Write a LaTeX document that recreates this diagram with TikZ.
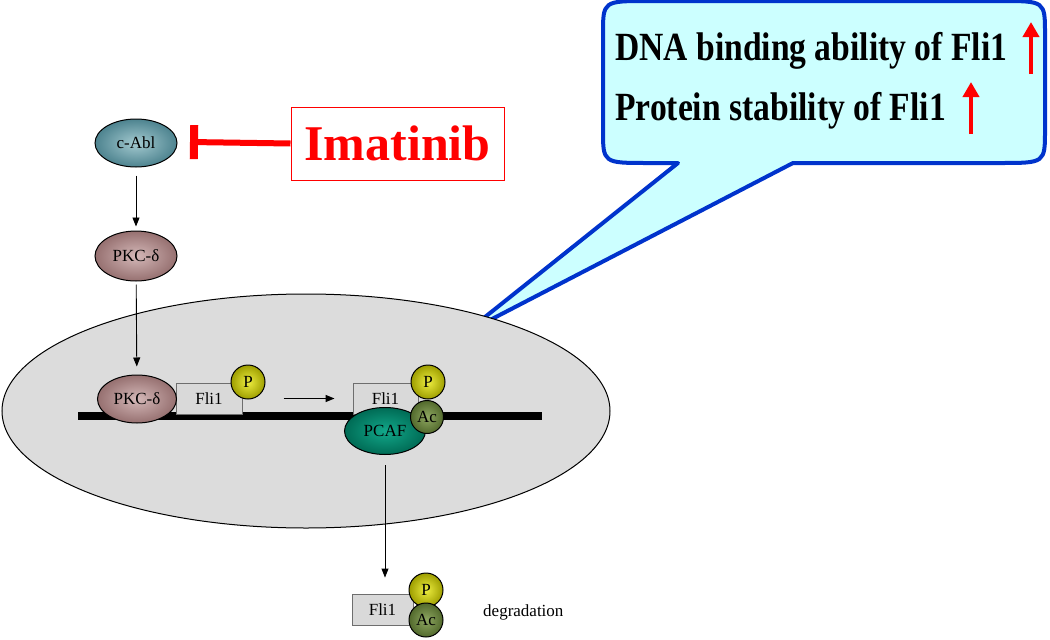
\documentclass[tikz,border=0pt]{standalone}
\usepackage{fontspec}
\usepackage{graphicx}
\setmainfont{Liberation Serif}
\usetikzlibrary{arrows.meta,shapes.geometric,calc}
\definecolor{calfill}{HTML}{CCFFFF}
\definecolor{calblue}{HTML}{0033CC}
\definecolor{nucfill}{HTML}{DCDCDC}
\definecolor{boxfill}{HTML}{D9D9D9}
\definecolor{boxline}{HTML}{6E6E6E}
\definecolor{cablin}{HTML}{A4CAD0}
\definecolor{cablout}{HTML}{4D838F}
\definecolor{pkcin}{HTML}{D4B8B8}
\definecolor{pkcout}{HTML}{967070}
\definecolor{pcafin}{HTML}{12A88A}
\definecolor{pcafout}{HTML}{006B55}
\definecolor{pin}{HTML}{EDED40}
\definecolor{pout}{HTML}{9E9E00}
\definecolor{acin}{HTML}{8FA862}
\definecolor{acout}{HTML}{52692C}
\begin{document}
\begin{tikzpicture}[x=1pt,y=-1pt,
  lbl/.style={font=\fontsize{17}{17}\selectfont},
  prot/.style={ellipse, draw=black, line width=1pt, inner sep=0pt, lbl, shading=radial},
  cablst/.style={prot, inner color=cablin, outer color=cablout},
  pkcst/.style={prot, inner color=pkcin, outer color=pkcout},
  pcafst/.style={prot, inner color=pcafin, outer color=pcafout},
  pball/.style={circle, draw=black, line width=1pt, inner sep=0pt, minimum size=34pt, lbl, shading=radial, inner color=pin, outer color=pout},
  acball/.style={circle, draw=black, line width=1pt, inner sep=0pt, minimum size=33pt, lbl, shading=radial, inner color=acin, outer color=acout},
  fli/.style={rectangle, draw=boxline, line width=0.9pt, fill=boxfill, inner sep=0pt, minimum height=31pt, lbl},
  arr/.style={draw=black, line width=0.9pt, -{Triangle[length=9pt,width=7pt]}},
  uparr/.style={red, line width=4pt, -{Triangle[length=15pt,width=16pt]}},
]
\useasboundingbox (0,0) rectangle (1050,640);

% callout
\coordinate (tip) at (465,333);
\filldraw[fill=calfill, draw=calblue, line width=4pt, line join=round]
  (tip) -- (678,163) -- (648,163) .. controls (603,163) .. (603,130)
  -- (603,34) .. controls (603,1) .. (648,1) -- (1000,1)
  .. controls (1045,1) .. (1045,34) -- (1045,130)
  .. controls (1045,163) .. (1000,163) -- (793,163) -- cycle;
\node[anchor=base west, inner sep=0pt, font=\fontsize{40}{40}\selectfont\bfseries] (t1) at (615,60) {\scalebox{0.84}[1]{DNA binding ability of Fli1}};
\node[anchor=base west, inner sep=0pt, font=\fontsize{40}{40}\selectfont\bfseries] (t2) at (615,120) {\scalebox{0.84}[1]{Protein stability of Fli1}};
\coordinate (u1a) at (1031,74); \coordinate (u1b) at (1031,22);
\coordinate (u2a) at (971,134); \coordinate (u2b) at (971,82);
\draw[uparr] (u1a) -- (u1b);
\draw[uparr] (u2a) -- (u2b);

% top pathway
\node[cablst, minimum width=82pt, minimum height=48pt] (cabl) at (136,143) {c-Abl};
\node[pkcst, minimum width=82pt, minimum height=50pt] (pkc1) at (136,256) {PKC-δ};
\node[draw=red, line width=1pt, minimum width=213pt, minimum height=73pt, inner sep=0pt,
      text=red, font=\fontsize{50}{50}\selectfont\bfseries] (imat) at (397.5,143.5) {Imatinib};
\coordinate (inh) at (190,142);
\draw[red, line width=6pt, -{Bar[width=34pt,line width=8pt]}] (imat.west) -- (inh);
\draw[arr, shorten <=8pt, shorten >=4pt] (cabl) -- (pkc1);

% nucleus
\node[ellipse, draw=black, line width=1pt, fill=nucfill, minimum width=608pt, minimum height=234pt, inner sep=0pt] (nuc) at (306,411) {};
\coordinate (dnaL) at (78,416); \coordinate (dnaR) at (542,416);
\draw[line width=8pt] (dnaL) -- (dnaR);

\node[fli, minimum width=66pt] (fli1a) at (209,398.5) {Fli1};
\node[pball] (p1) at (248,382) {P};
\node[pkcst, minimum width=79pt, minimum height=48pt] (pkc2) at (137,399) {PKC-δ};
\draw[arr, shorten <=3pt, shorten >=8pt] (pkc1) -- (pkc2);

\node[fli, minimum width=65pt] (fli1b) at (385.5,398.5) {Fli1};
\node[pball] (p2) at (428,382) {P};
\node[pcafst, minimum width=81pt, minimum height=47pt] (pcaf) at (385,431) {PCAF};
\node[acball] (ac2) at (427,417) {Ac};
\draw[arr, line width=1.3pt] ($(p1.east |- fli1a)+(18,0)$) -- ($(fli1b.west)+(-18,0)$);

% degradation
\node[fli, minimum width=61pt] (fli1c) at (382.5,609.5) {Fli1};
\node[pball] (p3) at (426,590) {P};
\node[acball, minimum size=34pt] (ac3) at (426,620) {Ac};
\node[anchor=west, inner sep=0pt, font=\fontsize{17}{17}\selectfont] (deg) at (483,612) {degradation};
\draw[arr, shorten <=10pt, shorten >=16pt] (pcaf.south) -- (pcaf.south |- fli1c.north);
\end{tikzpicture}
\end{document}
